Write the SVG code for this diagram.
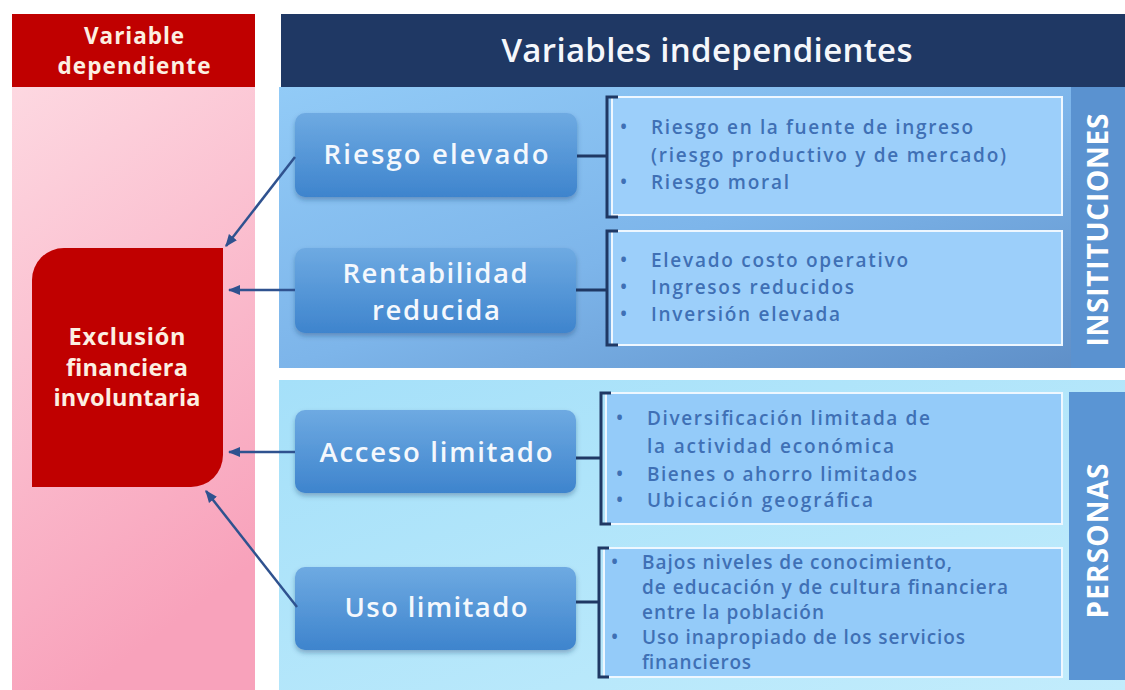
<svg xmlns="http://www.w3.org/2000/svg" width="1125" height="690" viewBox="0 0 1125 690">
<defs>
<linearGradient id="gPink" x1="0" y1="0" x2="0.3" y2="1">
<stop offset="0" stop-color="#fdd8e1"/>
<stop offset="1" stop-color="#f8a2bb"/>
</linearGradient>
<linearGradient id="gInst" x1="0" y1="0" x2="1" y2="1">
<stop offset="0" stop-color="#92cbf7"/>
<stop offset="0.5" stop-color="#7db5ea"/>
<stop offset="1" stop-color="#5d8dc6"/>
</linearGradient>
<linearGradient id="gPers" x1="0" y1="0" x2="1" y2="1">
<stop offset="0" stop-color="#a5e0f9"/>
<stop offset="1" stop-color="#c2ecfc"/>
</linearGradient>
<linearGradient id="gNode" x1="0" y1="0" x2="0" y2="1">
<stop offset="0" stop-color="#6eaae2"/>
<stop offset="1" stop-color="#3e84cd"/>
</linearGradient>
<filter id="sh" x="-10%" y="-10%" width="120%" height="130%">
<feDropShadow dx="0" dy="3" stdDeviation="2.5" flood-color="#1f3c6a" flood-opacity="0.35"/>
</filter>
<marker id="ah" viewBox="0 0 10 10" refX="9" refY="5" markerWidth="5" markerHeight="5" orient="auto-start-reverse" markerUnits="strokeWidth">
<path d="M0,1 L10,5 L0,9 z" fill="#2f528f"/>
</marker>
</defs>
<style>
.hd{font-family:"Open Sans","Liberation Sans",sans-serif;font-weight:700;fill:#fcefe2;text-anchor:middle}
.nt{font-family:"Open Sans","Liberation Sans",sans-serif;font-weight:600;font-size:27.5px;fill:#f4f8fd;text-anchor:middle}
.bt{font-family:"Open Sans","Liberation Sans",sans-serif;font-weight:600;font-size:19px;fill:#3f70b5}
.bx{fill:#9ccffa;stroke:#eef7ff;stroke-width:2}
.br{fill:none;stroke:#1f3864;stroke-width:3}
.ar{fill:none;stroke:#2f528f;stroke-width:2.5;marker-end:url(#ah)}
.vt{font-family:"Open Sans","Liberation Sans",sans-serif;font-weight:700;font-size:28px;fill:#ffffff;text-anchor:middle}
</style>
<rect width="1125" height="690" fill="#ffffff"/>

<g id="left-column">
<rect x="12" y="87" width="243" height="603" fill="url(#gPink)"/>
<rect x="12" y="14" width="243" height="73" fill="#c00000"/>
<text class="hd" x="134" y="44" font-size="22.5" textLength="100">Variable</text>
<text class="hd" x="134" y="74" font-size="22.5" textLength="153">dependiente</text>
</g>

<g id="right-header">
<rect x="281" y="14" width="844" height="73" fill="#1f3864"/>
<text class="hd" x="707" y="62" font-size="33" textLength="411" style="fill:#f5f7fb;font-weight:600">Variables independientes</text>
</g>

<g id="panel-instituciones">
<rect x="279" y="87" width="846" height="281" fill="url(#gInst)"/>
<rect x="1071" y="87" width="54" height="281" fill="#5a92d0"/>
<text class="vt" transform="translate(1108,230) rotate(-90)" textLength="233">INSITITUCIONES</text>
</g>

<g id="panel-personas">
<rect x="279" y="380" width="846" height="310" fill="url(#gPers)"/>
<rect x="1069" y="392" width="56" height="288" fill="#5a95d4"/>
<text class="vt" transform="translate(1108,541) rotate(-90)" textLength="155">PERSONAS</text>
</g>

<g id="node-exclusion">
<path d="M64,248 H223 V455 A32,32 0 0 1 191,487 H32 V280 A32,32 0 0 1 64,248 Z" fill="#c00000"/>
<text class="hd" x="127" y="345" font-size="23.5" textLength="117">Exclusión</text>
<text class="hd" x="127" y="376" font-size="23.5" textLength="122">financiera</text>
<text class="hd" x="127" y="406" font-size="23.5" textLength="147">involuntaria</text>
</g>

<g id="node-riesgo">
<rect x="295" y="113" width="282" height="84" rx="10" fill="url(#gNode)" filter="url(#sh)"/>
<text class="nt" x="436" y="164" textLength="225">Riesgo elevado</text>
</g>

<g id="node-rentabilidad">
<rect x="295" y="248" width="281" height="85" rx="10" fill="url(#gNode)" filter="url(#sh)"/>
<text class="nt" x="435" y="283" textLength="185">Rentabilidad</text>
<text class="nt" x="436" y="320" textLength="128">reducida</text>
</g>

<g id="node-acceso">
<rect x="295" y="410" width="281" height="83" rx="10" fill="url(#gNode)" filter="url(#sh)"/>
<text class="nt" x="436" y="462" textLength="233">Acceso limitado</text>
</g>

<g id="node-uso">
<rect x="295" y="567" width="281" height="83" rx="10" fill="url(#gNode)" filter="url(#sh)"/>
<text class="nt" x="436" y="617" textLength="183">Uso limitado</text>
</g>

<g id="box-riesgo">
<rect class="bx" x="612" y="97" width="450" height="118"/>
<text class="bt" x="620" y="134">•</text>
<text class="bt" x="651" y="134" textLength="322">Riesgo en la fuente de ingreso</text>
<text class="bt" x="651" y="162" textLength="355">(riesgo productivo y de mercado)</text>
<text class="bt" x="620" y="189">•</text>
<text class="bt" x="651" y="189" textLength="138">Riesgo moral</text>
</g>

<g id="box-rentabilidad">
<rect class="bx" x="612" y="231" width="450" height="114"/>
<text class="bt" x="620" y="267">•</text>
<text class="bt" x="651" y="267" textLength="257">Elevado costo operativo</text>
<text class="bt" x="620" y="294">•</text>
<text class="bt" x="651" y="294" textLength="203">Ingresos reducidos</text>
<text class="bt" x="620" y="321">•</text>
<text class="bt" x="651" y="321" textLength="189">Inversión elevada</text>
</g>

<g id="box-acceso">
<rect class="bx" x="606" y="393" width="456" height="131" style="fill:#94cbf9"/>
<text class="bt" x="616" y="425">•</text>
<text class="bt" x="647" y="425" textLength="283">Diversificación limitada de</text>
<text class="bt" x="647" y="453" textLength="247">la actividad económica</text>
<text class="bt" x="616" y="481">•</text>
<text class="bt" x="647" y="481" textLength="270">Bienes o ahorro limitados</text>
<text class="bt" x="616" y="507">•</text>
<text class="bt" x="647" y="507" textLength="226">Ubicación geográfica</text>
</g>

<g id="box-uso">
<rect class="bx" x="604" y="548" width="458" height="129" style="fill:#94cbf9"/>
<text class="bt" x="611" y="569">•</text>
<text class="bt" x="642" y="569" textLength="310">Bajos niveles de conocimiento,</text>
<text class="bt" x="642" y="594" textLength="366">de educación y de cultura financiera</text>
<text class="bt" x="642" y="619" textLength="182">entre la población</text>
<text class="bt" x="611" y="644">•</text>
<text class="bt" x="642" y="644" textLength="323">Uso inapropiado de los servicios</text>
<text class="bt" x="642" y="669" textLength="109">financieros</text>
</g>

<g id="connectors">
<path class="br" d="M618,97 H607 V217 H618 M577,156 H607"/>
<path class="br" d="M618,231 H607 V345 H618 M576,290 H607"/>
<path class="br" d="M611,393 H601 V524 H611 M576,458 H601"/>
<path class="br" d="M609,548 H599 V677 H609 M576,602 H599"/>
<line class="ar" x1="295" y1="157" x2="226" y2="246"/>
<line class="ar" x1="295" y1="290" x2="229" y2="290"/>
<line class="ar" x1="295" y1="452" x2="229" y2="452"/>
<line class="ar" x1="297" y1="607" x2="206" y2="491"/>
</g>
</svg>
